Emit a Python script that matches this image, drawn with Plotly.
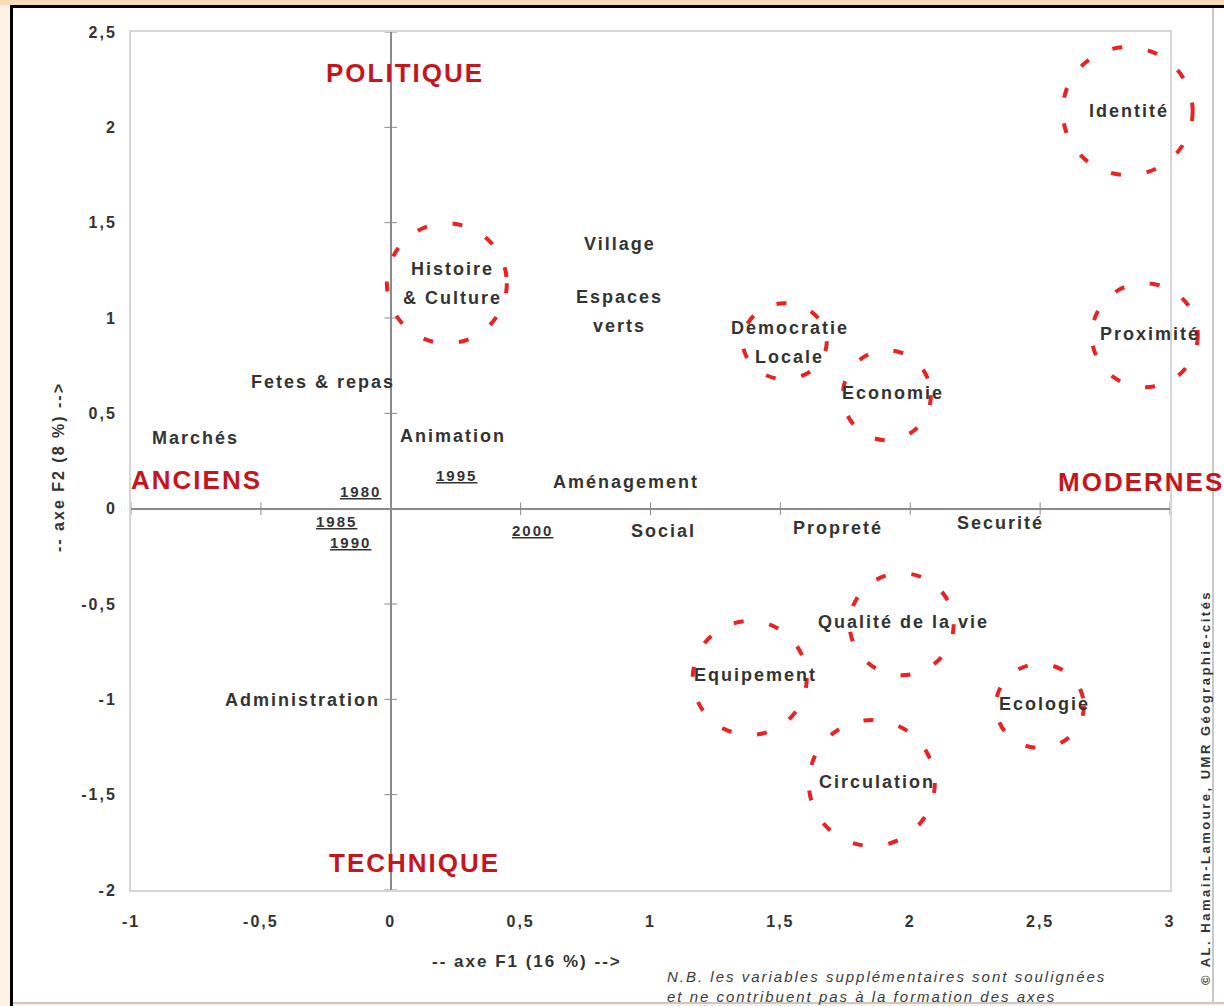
import plotly.graph_objects as go

# ---------------- data ----------------
# Active variables (axe F1, axe F2)
var_labels = ["Identité", "Village", "Histoire<br>& Culture", "Espaces<br>verts",
              "Democratie<br>Locale", "Proximité", "Economie", "Fetes & repas",
              "Marchés", "Animation", "Aménagement", "Social", "Propreté",
              "Securité", "Qualité de la vie", "Equipement", "Ecologie",
              "Administration", "Circulation"]
var_f1 = [2.841, 0.882, 0.239, 0.882, 1.536, 2.922, 1.933, -0.262, -0.751, 0.239,
          0.905, 1.051, 1.721, 2.348, 1.975, 1.405, 2.518, -0.339, 1.871]
var_f2 = [2.084, 1.388, 1.181, 1.036, 0.874, 0.916, 0.606, 0.664, 0.370, 0.381,
          0.139, -0.117, -0.102, -0.076, -0.594, -0.872, -1.025, -1.004, -1.434]

# Supplementary variables (years, underlined)
sup_labels = ["1980", "1985", "1990", "1995", "2000"]
sup_f1 = [-0.115, -0.208, -0.154, 0.254, 0.547]
sup_f2 = [0.092, -0.065, -0.175, 0.176, -0.117]

# Highlighted groups (dashed circles): centre F1, F2
circle_names = ["Identité", "Histoire & Culture", "Democratie Locale", "Economie",
                "Proximité", "Qualité de la vie", "Equipement", "Ecologie", "Circulation"]
circle_f1 = [2.837, 0.216, 1.517, 1.910, 2.903, 1.967, 1.382, 2.499, 1.852]
circle_f2 = [2.085, 1.182, 0.878, 0.595, 0.910, -0.606, -0.888, -1.035, -1.439]

# Poles of the axes
pole_labels = ["POLITIQUE", "ANCIENS", "MODERNES", "TECHNIQUE"]
pole_f1 = [0.054, -0.747, 2.887, 0.092]
pole_f2 = [2.284, 0.150, 0.140, -1.858]

# Axis ticks
x_ticks = [-1, -0.5, 0, 0.5, 1, 1.5, 2, 2.5, 3]
x_ticktext = ["-1", "-0,5", "0", "0,5", "1", "1,5", "2", "2,5", "3"]
y_ticks = [-2, -1.5, -1, -0.5, 0, 0.5, 1, 1.5, 2, 2.5]
y_ticktext = ["-2", "-1,5", "-1", "-0,5", "0", "0,5", "1", "1,5", "2", "2,5"]

# ---------------- styling / layout ----------------
W, H = 1224, 1006
L, R, T, B = 131, 54, 32, 116
PW, PH = W - L - R, H - T - B
XR = [-1, 3]
YR = [-2, 2.5]
FONT = "Liberation Sans, Arial, sans-serif"
RED = "#c5161d"
TXT = "#333333"
circle_rx = [65, 60, 42, 44, 53, 52, 57, 44, 63]
circle_ry = [64, 60, 38, 45, 52, 51, 57, 42, 63]


def sp(t, ls=2):
    return f'<span style="letter-spacing:{ls}px">{t}</span>'


def pxx(px):
    return (px - L) / PW


def pxy(py):
    return (H - B - py) / PH


fig = go.Figure()

# tick crosses along the zero axes
fig.add_trace(go.Scatter(
    x=x_ticks, y=[0] * len(x_ticks), mode="markers", cliponaxis=False,
    marker=dict(symbol="line-ns", size=9, line=dict(width=1, color="#8a8a8a")),
    hoverinfo="skip", showlegend=False))
fig.add_trace(go.Scatter(
    x=[0] * len(y_ticks), y=y_ticks, mode="markers", cliponaxis=False,
    marker=dict(symbol="line-ew", size=9, line=dict(width=1, color="#8a8a8a")),
    hoverinfo="skip", showlegend=False))

annotations = []
# active variable labels
for lab, fx, fy in zip(var_labels, var_f1, var_f2):
    lines = lab.split("<br>")
    n = len(lines)
    for i, ln in enumerate(lines):
        annotations.append(dict(
            x=fx, y=fy, xref="x", yref="y", text=sp(ln), showarrow=False,
            xanchor="center", yanchor="middle", yshift=((n - 1) / 2 - i) * 29,
            font=dict(family=FONT, size=18, color=TXT, weight="bold")))
# supplementary (underlined)
for lab, fx, fy in zip(sup_labels, sup_f1, sup_f2):
    annotations.append(dict(
        x=fx, y=fy, xref="x", yref="y", text="<u>" + sp(lab) + "</u>", showarrow=False,
        xanchor="center", yanchor="middle",
        font=dict(family=FONT, size=15, color=TXT, weight="bold")))
# poles
for lab, fx, fy in zip(pole_labels, pole_f1, pole_f2):
    annotations.append(dict(
        x=fx, y=fy, xref="x", yref="y", text=sp(lab, 2), showarrow=False,
        xanchor="center", yanchor="middle",
        font=dict(family=FONT, size=26, color=RED, weight="bold")))

# axis titles
annotations.append(dict(
    x=pxx(527), y=pxy(961), xref="paper", yref="paper", text=sp("-- axe F1 (16 %) -->"),
    showarrow=False, xanchor="center", yanchor="middle",
    font=dict(family=FONT, size=17, color=TXT, weight="bold")))
annotations.append(dict(
    x=pxx(58), y=pxy(467), xref="paper", yref="paper", text=sp("-- axe F2 (8 %) -->"),
    showarrow=False, xanchor="center", yanchor="middle", textangle=-90,
    font=dict(family=FONT, size=16, color=TXT, weight="bold")))
# note
annotations.append(dict(
    x=pxx(665), y=pxy(986), xref="paper", yref="paper",
    text=sp("N.B. les variables supplémentaires sont soulignées") + "<br>" +
    sp("et ne contribuent pas à la formation des axes"),
    showarrow=False, xanchor="left", yanchor="middle", align="left",
    font=dict(family=FONT, size=15, color="#3a3a3a", style="italic")))
# copyright
annotations.append(dict(
    x=pxx(1205), y=pxy(788), xref="paper", yref="paper",
    text=sp("© AL. Hamain-Lamoure, UMR Géographie-cités", 2.5),
    showarrow=False, xanchor="center", yanchor="middle", textangle=-90,
    font=dict(family=FONT, size=13, color=TXT, weight="bold")))

shapes = []
# page background and frame
shapes.append(dict(type="rect", xref="paper", yref="paper", layer="below",
                   x0=pxx(11), x1=pxx(W + 5), y0=pxy(1003), y1=pxy(6),
                   fillcolor="white", line=dict(width=0)))
shapes.append(dict(type="rect", xref="paper", yref="paper", layer="below",
                   x0=pxx(-5), x1=pxx(W + 5), y0=pxy(5), y1=pxy(-5),
                   fillcolor="#f9dcb4", line=dict(width=0)))
shapes.append(dict(type="line", xref="paper", yref="paper", layer="below",
                   x0=pxx(11.5), x1=pxx(11.5), y0=pxy(H + 5), y1=pxy(5),
                   line=dict(width=3, color="black")))
shapes.append(dict(type="line", xref="paper", yref="paper", layer="below",
                   x0=pxx(10), x1=pxx(W + 5), y0=pxy(6.5), y1=pxy(6.5),
                   line=dict(width=3, color="black")))
shapes.append(dict(type="line", xref="paper", yref="paper", layer="below",
                   x0=pxx(13), x1=pxx(W + 5), y0=pxy(1003), y1=pxy(1003),
                   line=dict(width=2, color="#c8c8c8")))
shapes.append(dict(type="line", xref="paper", yref="paper", layer="below",
                   x0=pxx(1213), x1=pxx(1213), y0=pxy(1003), y1=pxy(8),
                   line=dict(width=2, color="#c8c8c8")))

# dashed highlight circles
for cx, cy, rx, ry in zip(circle_f1, circle_f2, circle_rx, circle_ry):
    shapes.append(dict(
        type="circle", xref="paper", yref="paper",
        xsizemode="pixel", ysizemode="pixel",
        xanchor=(cx - XR[0]) / (XR[1] - XR[0]), yanchor=(cy - YR[0]) / (YR[1] - YR[0]),
        x0=-rx, x1=rx, y0=-ry, y1=ry,
        line=dict(color="#e82323", width=4, dash="10px,26px")))

axis_common = dict(showgrid=False, zeroline=True, zerolinecolor="#8a8a8a",
                   zerolinewidth=1.5, showline=True, mirror=True,
                   linecolor="#d6d6d6", linewidth=2, ticks="", automargin=False,
                   tickfont=dict(family=FONT, size=16, color=TXT, weight="bold"))

fig.update_layout(
    width=W, height=H, template="none",
    margin=dict(l=L, r=R, t=T, b=B, pad=0),
    paper_bgcolor="#fdf2e4", plot_bgcolor="white",
    showlegend=False,
    xaxis=dict(range=XR, tickvals=x_ticks, ticktext=[sp(t) for t in x_ticktext],
               ticklabelstandoff=16, **axis_common),
    yaxis=dict(range=YR, tickvals=y_ticks, ticktext=[sp(t) for t in y_ticktext],
               ticklabelstandoff=9, **axis_common),
    annotations=annotations, shapes=shapes,
)

fig.write_html(
    "out.html",
    config={"displayModeBar": False},
    post_script="document.body.style.margin='0';document.body.style.padding='0';"
                "document.body.style.overflow='hidden';"
                "document.body.style.background='#fdf2e4';",
)
